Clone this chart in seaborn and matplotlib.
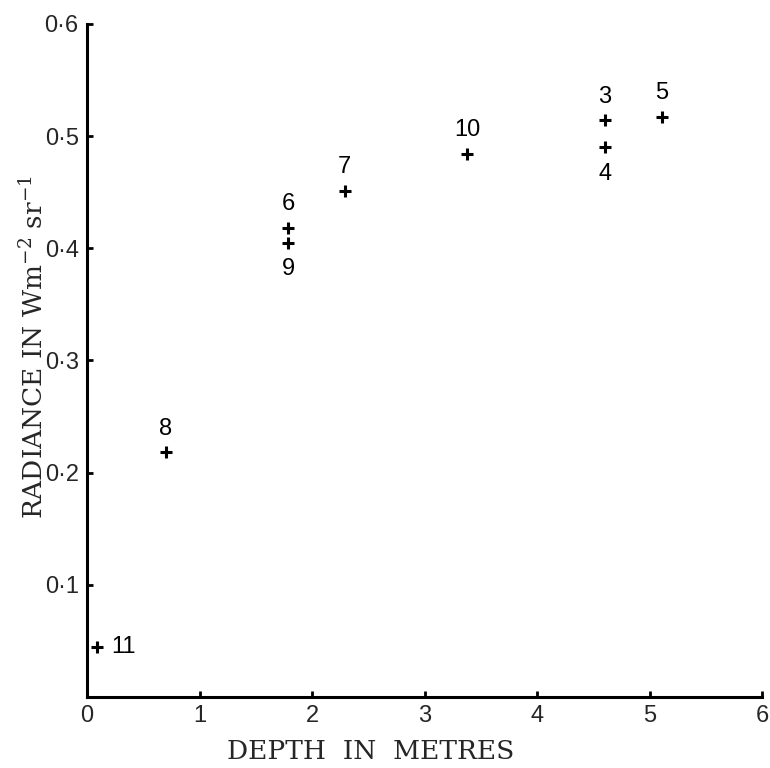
import pandas as pd
import matplotlib.pyplot as plt
import seaborn as sns

# data
sample = ["11", "8", "6", "9", "7", "10", "3", "4", "5"]
depth = [0.09, 0.70, 1.79, 1.79, 2.29, 3.38, 4.60, 4.60, 5.11]
radiance = [0.045, 0.218, 0.418, 0.405, 0.451, 0.484, 0.514, 0.490, 0.517]
label_pos = ["right", "above", "above", "below", "above", "above", "above", "below", "above"]

x_ticks = [0, 1, 2, 3, 4, 5, 6]
x_tick_labels = ["0", "1", "2", "3", "4", "5", "6"]
y_ticks = [0.1, 0.2, 0.3, 0.4, 0.5, 0.6]
y_tick_labels = ["0·1", "0·2", "0·3", "0·4", "0·5", "0·6"]

df = pd.DataFrame({"depth": depth, "radiance": radiance, "sample": sample, "pos": label_pos})

sns.set_style("ticks")
plt.rcParams['font.family'] = ['Liberation Sans', 'DejaVu Sans']
plt.rcParams['mathtext.fontset'] = 'dejavuserif'

fig = plt.figure(figsize=(7.7, 7.68), dpi=100)
ax = fig.add_axes([0.113, 0.0924, 0.877, 0.8766])

sns.scatterplot(data=df, x="depth", y="radiance", marker="+", s=70,
                color="black", linewidth=2.2, ax=ax, legend=False)

# point labels
offsets = {"above": (0, 17), "below": (0, -19), "right": (19, 0)}
for _, row in df.iterrows():
    dx, dy = offsets[row["pos"]]
    ax.annotate(row["sample"], (row["depth"], row["radiance"]),
                xytext=(dx, dy), textcoords="offset points",
                ha="center", va="center", fontsize=17, color="black")

ax.set_xlim(0, 6)
ax.set_ylim(0, 0.6)
ax.set_xticks(x_ticks)
ax.set_xticklabels(x_tick_labels)
ax.set_yticks(y_ticks)
ax.set_yticklabels(y_tick_labels)
ax.tick_params(direction="in", length=4, width=2, labelsize=17, pad=6, color="black")

sns.despine(ax=ax)
for side in ["left", "bottom"]:
    ax.spines[side].set_linewidth(2.2)
    ax.spines[side].set_color("black")

ax.set_xlabel("DEPTH  IN  METRES", family="DejaVu Serif", fontsize=19)
ax.set_ylabel(r"RADIANCE IN Wm$^{-2}$ sr$^{-1}$", family="DejaVu Serif", fontsize=19)
ax.xaxis.set_label_coords(0.42, -0.062)
ax.yaxis.set_label_coords(-0.058, 0.52)

fig.savefig("out.png", dpi=100)
